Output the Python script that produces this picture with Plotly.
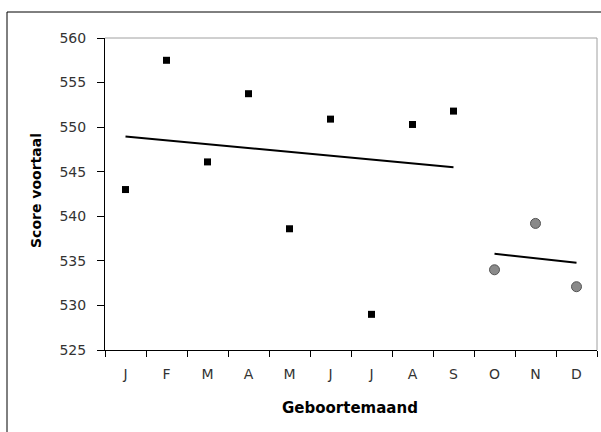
import plotly.graph_objects as go

months = ["J", "F", "M", "A", "M ", "J ", "J  ", "A ", "S", "O", "N", "D"]
month_labels = ["J", "F", "M", "A", "M", "J", "J", "A", "S", "O", "N", "D"]

scores_jan_sep = [543.0, 557.5, 546.1, 553.75, 538.6, 550.9, 529.0, 550.3, 551.8]
scores_oct_dec = [534.0, 539.2, 532.1]

trend1_months = ["J", "S"]
trend1_values = [548.95, 545.5]
trend2_months = ["O", "D"]
trend2_values = [535.8, 534.8]

W, H = 601, 432
L, R, T, B = 105, 597, 38, 350

fig = go.Figure()

fig.add_trace(go.Scatter(
    x=months[:9], y=scores_jan_sep, mode="markers",
    marker=dict(symbol="square", size=7, color="black", line=dict(width=0)),
    showlegend=False))
fig.add_trace(go.Scatter(
    x=months[9:], y=scores_oct_dec, mode="markers",
    marker=dict(symbol="circle", size=10, color="#8a8a8a", line=dict(width=1, color="#555555")),
    showlegend=False))
fig.add_trace(go.Scatter(
    x=trend1_months, y=trend1_values, mode="lines",
    line=dict(color="black", width=2), showlegend=False))
fig.add_trace(go.Scatter(
    x=trend2_months, y=trend2_values, mode="lines",
    line=dict(color="black", width=2), showlegend=False))

def px_x(p):
    return (p - L) / (R - L)

def px_y(p):
    return (B - p) / (B - T)

shapes = [
    # outer chart border (top and left visible)
    dict(type="line", xref="paper", yref="paper", x0=px_x(7), y0=px_y(12), x1=px_x(W + 5), y1=px_y(12),
         line=dict(color="black", width=1)),
    dict(type="line", xref="paper", yref="paper", x0=px_x(7), y0=px_y(12), x1=px_x(7), y1=px_y(H + 5),
         line=dict(color="black", width=1)),
    # plot area border top/right gray
    dict(type="line", xref="paper", yref="paper", x0=0, y0=1, x1=1, y1=1,
         line=dict(color="#a0a0a0", width=1), layer="below"),
    dict(type="line", xref="paper", yref="paper", x0=1, y0=0, x1=1, y1=1,
         line=dict(color="#a0a0a0", width=1), layer="below"),
]

title_font = "DejaVu Sans, Liberation Sans, Arial"
annotations = [
    dict(text="<b>Score voortaal</b>", xref="paper", yref="paper", x=px_x(36), y=px_y(191),
         showarrow=False, textangle=-90, font=dict(family=title_font, size=14, color="black"),
         xanchor="center", yanchor="middle"),
    dict(text="<b>Geboortemaand</b>", xref="paper", yref="paper", x=px_x(350), y=px_y(408),
         showarrow=False, font=dict(family=title_font, size=15, color="black"),
         xanchor="center", yanchor="middle"),
]

fig.update_layout(
    width=W, height=H,
    margin=dict(l=L, r=W - R, t=T, b=H - B, pad=0),
    paper_bgcolor="white", plot_bgcolor="white",
    shapes=shapes, annotations=annotations,
    font=dict(family="DejaVu Sans, Liberation Sans, Arial", size=14, color="#333333"),
    xaxis=dict(
        type="category", categoryorder="array", categoryarray=months,
        tickvals=months, ticktext=month_labels,
        range=[-0.5, 11.5], tickson="boundaries", ticks="outside", ticklen=6,
        tickcolor="black", tickwidth=1, showline=True, linecolor="black", linewidth=1,
        showgrid=False, zeroline=False, ticklabelstandoff=11, fixedrange=True),
    yaxis=dict(
        range=[525, 560], tickvals=[525, 530, 535, 540, 545, 550, 555, 560],
        ticks="outside", ticklen=7, tickcolor="black", tickwidth=1,
        showline=True, linecolor="black", linewidth=1, showgrid=False, zeroline=False,
        ticklabelstandoff=8, fixedrange=True),
)

fig.write_html(
    "out.html",
    config={"displayModeBar": False},
    post_script="document.body.style.margin='0';document.body.style.overflow='hidden';",
)
